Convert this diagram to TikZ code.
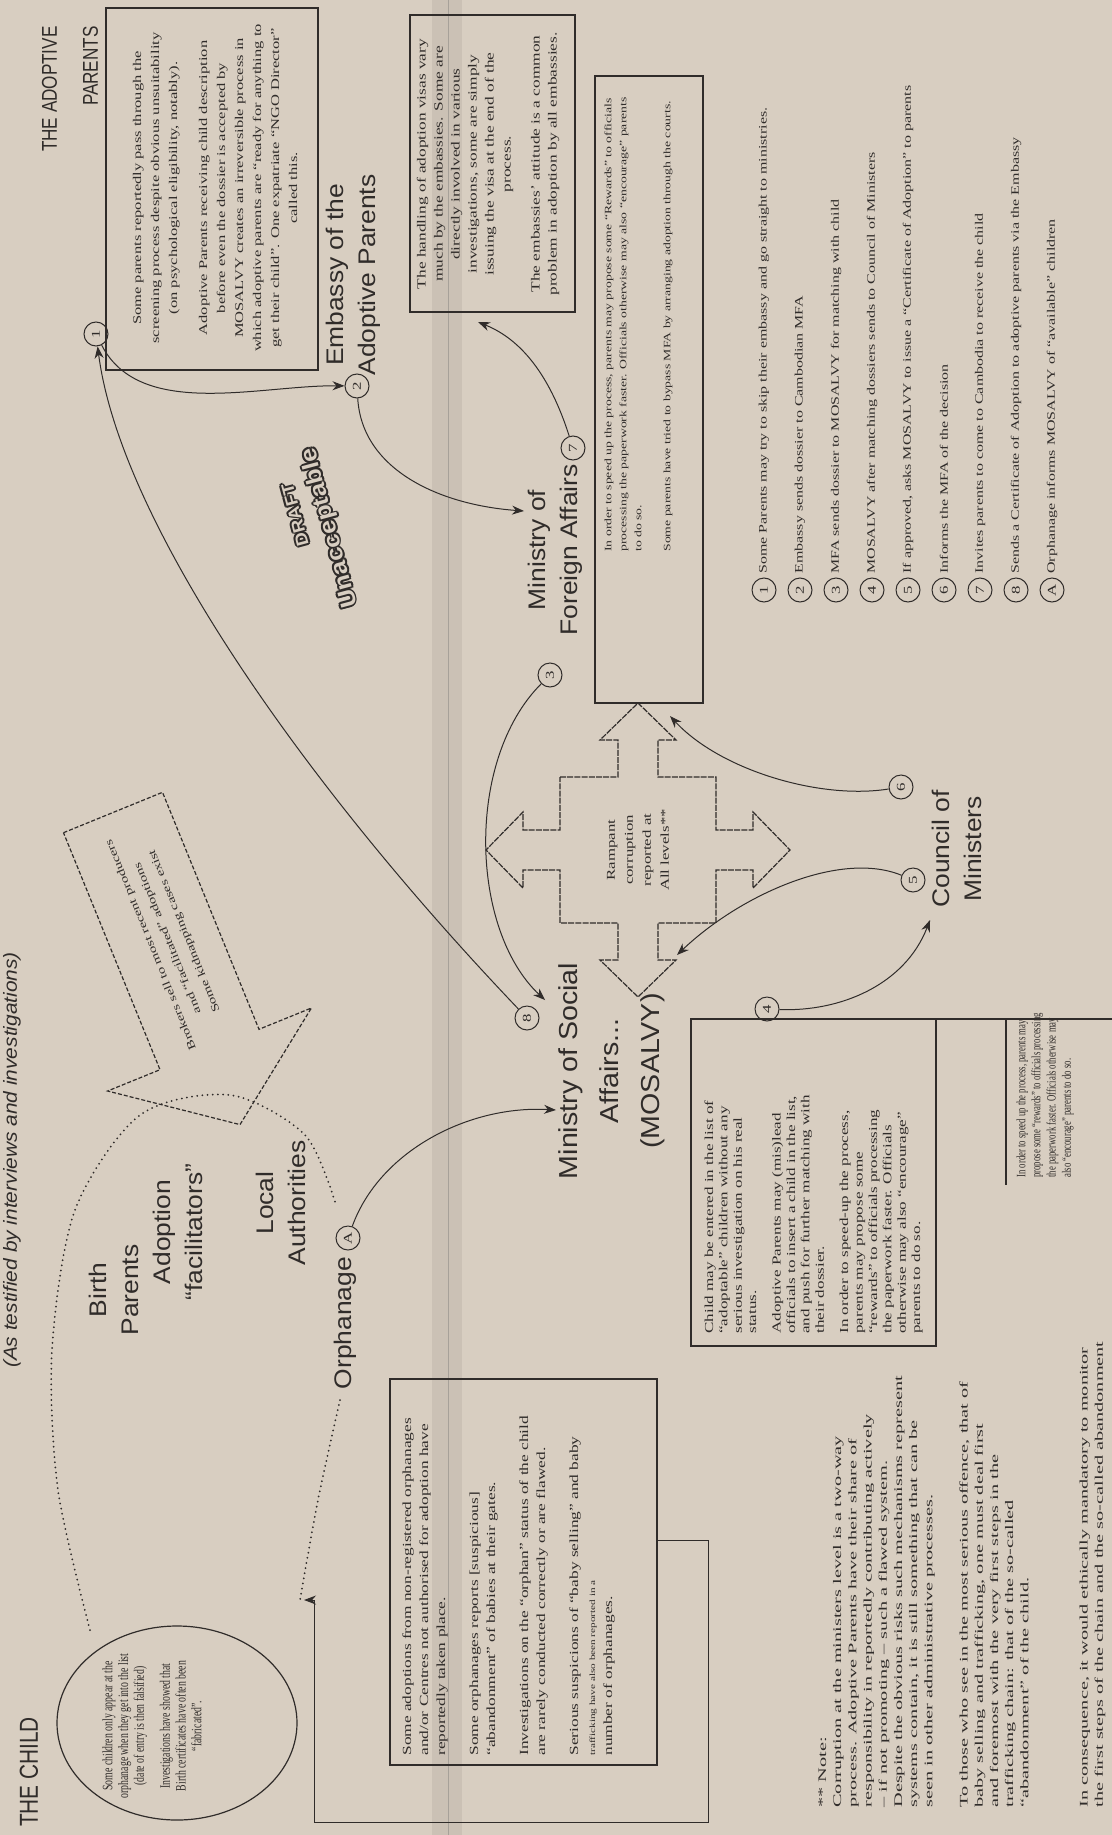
\documentclass[tikz,border=0pt]{standalone}
\usepackage{fontspec}
\setmainfont{Liberation Serif}[FakeStretch=1.4]
\setsansfont{Liberation Sans}[FakeStretch=1.1]
\newfontfamily\condserif{Liberation Serif}[FakeStretch=0.8]
\newfontfamily\ncondserif{Liberation Serif}[FakeStretch=0.68]
\newfontfamily\widserif{Liberation Serif}[FakeStretch=1.75]
\newfontfamily\hdsans{Liberation Sans}[FakeStretch=0.8]
\usetikzlibrary{arrows.meta,shapes.geometric}
\definecolor{paper}{RGB}{216,206,193}
\definecolor{ink}{RGB}{48,44,42}
\tikzset{
  rt/.style={rotate=90, inner sep=0pt, text=ink},
  lbl/.style={rt, font=\sffamily\fontsize{12}{16}\selectfont, align=center},
  txt/.style={rt, font=\rmfamily\fontsize{6}{7}\selectfont},
  num/.style={circle, draw=ink, line width=0.5pt, minimum size=12pt, inner sep=0pt, rotate=90, text=ink, font=\rmfamily\fontsize{6}{6}\selectfont},
  boxline/.style={draw=ink, line width=0.75pt},
  conn/.style={draw=ink, line width=0.5pt},
  arr/.style={conn, -{Stealth[length=6pt,width=4.5pt]}},
  dotc/.style={draw=ink, line width=1pt, line cap=round, dash pattern=on 0pt off 2.6pt},
  stampf/.style={inner sep=0pt, rotate=105, font=\sffamily\bfseries\fontsize{11.5}{11.5}\selectfont},
  stampg/.style={inner sep=0pt, rotate=105, font=\sffamily\bfseries\fontsize{8.5}{8.5}\selectfont}
}
\begin{document}
\begin{tikzpicture}[x=0.5pt,y=-0.5pt]
\fill[paper] (0,0) rectangle (1112,1835);
\useasboundingbox (0,0) rectangle (1112,1835);
\fill[black,opacity=0.06] (432,0) rectangle (462,1835);
\draw[black!60, opacity=0.35, line width=0.4pt] (448,0) -- (448,1835);

% ---------- headings
\node[rt, font=\sffamily\itshape\fontsize{9.5}{11}\selectfont] (title) at (12,1160) {(As testified by interviews and investigations)};
\node[rt, font=\hdsans\fontsize{13}{14}\selectfont] (hchild) at (29,1772) {THE CHILD};
\node[rt, font=\hdsans\fontsize{10.7}{20.5}\selectfont, align=right, anchor=east] (hparents) at (70,26) {THE ADOPTIVE\\PARENTS};

% ---------- adoptive parents box
\draw[boxline] (106,8) rectangle (318,370);
\node[txt, font=\rmfamily\fontsize{5.9}{9}\selectfont, align=center] (aptxt) at (215,188) {Some parents reportedly pass through the\\
screening process despite obvious unsuitability\\
(on psychological eligibility, notably).\\[6pt]
Adoptive Parents receiving child description\\
before even the dossier is accepted by\\
MOSALVY creates an irreversible process in\\
which adoptive parents are “ready for anything to\\
get their child”. One expatriate “NGO Director”\\
called this.};
\node[num] (c1) at (96,334) {1};

% ---------- embassy
\node[lbl] (emb) at (353,275) {Embassy of the\\Adoptive Parents};
\node[num] (c2) at (357,386) {2};
\draw[boxline] (410,15) rectangle (575,312);
\node[txt, font=\rmfamily\fontsize{6.2}{8.5}\selectfont, align=center] (embtxt) at (488,164) {The handling of adoption visas vary\\
much by the embassies. Some are\\
directly involved in various\\
investigations, some are simply\\
issuing the visa at the end of the\\
process.\\[6pt]
The embassies’ attitude is a common\\
problem in adoption by all embassies.};

% ---------- MFA
\node[lbl] (mfa) at (555,550) {Ministry of\\Foreign Affairs};
\node[num] (c7) at (573,448) {7};
\node[num] (c3) at (550,675) {3};
\draw[boxline] (595,76) rectangle (703,703);
\node[txt, font=\rmfamily\fontsize{4.9}{7.5}\selectfont, anchor=north west, align=left] (mfatxt) at (604,552) {In order to speed up the process, parents may propose some “Rewards” to officials\\
processing the paperwork faster. Officials otherwise may also “encourage” parents\\
to do so.\\[7pt]
Some parents have tried to bypass MFA by arranging adoption through the courts.};

% ---------- stamp
\foreach \dx/\dy [count=\i] in {1/0,-1/0,0/1,0/-1,0.7/0.7,-0.7/0.7,0.7/-0.7,-0.7/-0.7}{
  \node[stampf, text=ink, xshift=\dx pt, yshift=\dy pt] (sa\i) at (330,528) {Unacceptable};
  \node[stampg, text=ink, xshift=\dx pt, yshift=\dy pt] (sb\i) at (295,515) {DRAFT};
}
\node[stampf, text=paper] (stampA) at (330,528) {Unacceptable};
\node[stampg, text=paper] (stampB) at (295,515) {DRAFT};

% ---------- facilitators block arrow
\draw[ink, line width=0.6pt, dash pattern=on 2pt off 1pt]
  (63.5,832.7) -- (162.5,792.3) -- (259,1029.3) -- (311.4,1008) -- (240,1124.6) -- (107.6,1091) -- (160,1069.7) -- cycle;
\node[rt, rotate=22.15, font=\rmfamily\fontsize{5.4}{9}\selectfont, align=center] (fac) at (168,938) {Brokers sell to most recent producers\\and “facilitated” adoptions\\Some kidnapping cases exist};

% ---------- child side labels
\node[lbl] (birth) at (114,1290) {Birth\\Parents};
\node[lbl] (facil) at (178,1232) {Adoption\\“facilitators”};
\node[lbl] (local) at (281,1203) {Local\\Authorities};
\node[lbl] (orph) at (345,1323) {Orphanage};
\node[num] (cA) at (348,1238) {A};
\draw[dotc] plot[smooth] coordinates {(90,1630) (58,1490) (52,1350) (75,1210) (140,1115) (230,1095) (305,1135) (336,1205)};
\draw[dotc] plot[smooth] coordinates {(340,1400) (318,1500) (300,1600)};

% ---------- child ellipse
\node[draw=ink, line width=0.6pt, ellipse, rotate=90, minimum width=97pt, minimum height=120pt, inner sep=0pt] (child) at (177,1723) {};
\node[txt, font=\ncondserif\fontsize{7.2}{7.9}\selectfont, align=center] (childtxt) at (152,1726) {Some children only appear at the\\orphanage when they get into the list\\(date of entry is then falsified)\\[5pt]Investigations have showed that\\Birth certificates have often been\\“fabricated”.};

% ---------- orphanage box
\draw[boxline] (390,1379) rectangle (657,1765);
\node[txt, font=\rmfamily\fontsize{6.2}{8.5}\selectfont, anchor=north west, align=left] (orphtxt) at (402,1756) {Some adoptions from non-registered orphanages\\
and/or Centres not authorised for adoption have\\
reportedly taken place.\\[8pt]
Some orphanages reports [suspicious]\\
“abandonment” of babies at their gates.\\[8pt]
Investigations on the “orphan” status of the child\\
are rarely conducted correctly or are flawed.\\[8pt]
Serious suspicions of “baby selling” and baby\\
{\fontsize{4}{8.5}\selectfont trafficking have also been reported in a}\\
number of orphanages.};
\coordinate (ob1) at (657,1540);
\coordinate (ob2) at (304,1600);
\draw[arr] (ob1) -- (708,1540) -- (708,1822) -- (314,1822) -- (314,1600) -- (ob2);

% ---------- MOSALVY
\node[lbl, font=\sffamily\fontsize{13}{20.5}\selectfont] (mos) at (612,1071) {Ministry of Social\\Affairs...\\(MOSALVY)};
\node[num] (c8) at (527,1018) {8};
\node[num] (c4) at (767,1009) {4};
\draw[boxline] (691,1019) rectangle (936,1346);
\draw[boxline] (936,1019) -- (1112,1019);
\node[txt, font=\rmfamily\fontsize{6.1}{7.2}\selectfont, anchor=north west, align=left] (mostxt) at (704,1334) {Child may be entered in the list of\\
“adoptable” children without any\\
serious investigation on his real\\
status.\\[5pt]
Adoptive Parents may (mis)lead\\
officials to insert a child in the list,\\
and push for further matching with\\
their dossier.\\[5pt]
In order to speed-up the process,\\
parents may propose some\\
“rewards” to officials processing\\
the paperwork faster. Officials\\
otherwise may also “encourage”\\
parents to do so.};

% ---------- cross
\draw[ink, line width=0.6pt, dash pattern=on 3pt off 0.6pt]
 (560,777) -- (618,777) -- (618,740) -- (600,740) -- (638,703) -- (676,740) -- (658,740) -- (658,777) -- (716,777) -- (716,830) -- (753,830) -- (753,812) -- (790,850) -- (753,888) -- (753,870) -- (716,870) -- (716,923) -- (658,923) -- (658,960) -- (676,960) -- (638,997) -- (600,960) -- (618,960) -- (618,923) -- (560,923) -- (560,870) -- (523,870) -- (523,888) -- (486,850) -- (523,812) -- (523,830) -- (560,830) -- cycle;
\node[txt, font=\rmfamily\fontsize{6}{9}\selectfont, align=center] (cross) at (638,850) {Rampant\\corruption\\reported at\\All levels**};

% ---------- council
\node[lbl] (council) at (957,849) {Council of\\Ministers};
\node[num] (c5) at (913,880) {5};
\node[num] (c6) at (901,787) {6};
\draw[boxline] (1006,1019) -- (1006,1185);
\node[txt, font=\ncondserif\fontsize{6.4}{7.6}\selectfont, anchor=north west, align=left] (counciltxt) at (1016,1178) {In order to speed up the process, parents may\\
propose some “rewards” to officials processing\\
the paperwork faster. Officials otherwise may\\
also “encourage” parents to do so.};

% ---------- legend
\foreach \k/\lab/\t in {0/1/{Some Parents may try to skip their embassy and go straight to ministries.},
 1/2/{Embassy sends dossier to Cambodian MFA},
 2/3/{MFA sends dossier to MOSALVY for matching with child},
 3/4/{MOSALVY after matching dossiers sends to Council of Ministers},
 4/5/{If approved, asks MOSALVY to issue a “Certificate of Adoption” to parents},
 5/6/{Informs the MFA of the decision},
 6/7/{Invites parents to come to Cambodia to receive the child},
 7/8/{Sends a Certificate of Adoption to adoptive parents via the Embassy},
 8/A/{Orphanage informs MOSALVY of “available” children}}{
  \node[num] (leg\lab) at ({764+36*\k},590) {\lab};
  \node[txt, font=\rmfamily\fontsize{5.7}{6}\selectfont, anchor=west] (legt\lab) at ({764+36*\k},574) {\t};
}

% ---------- notes
\node[txt, anchor=north west, align=left, font=\widserif\fontsize{5.8}{7.6}\selectfont] (notes) at (818,1808) {** Note:\\
Corruption at the ministers level is a two-way\\
process. Adoptive Parents have their share of\\
responsibility in reportedly contributing actively\\
– if not promoting – such a flawed system.\\
Despite the obvious risks such mechanisms represent\\
systems contain, it is still something that can be\\
seen in other administrative processes.\\[10pt]
To those who see in the most serious offence, that of\\
baby selling and trafficking, one must deal first\\
and foremost with the very first steps in the\\
trafficking chain: that of the so-called\\
“abandonment” of the child.\\[22pt]
In consequence, it would ethically mandatory to monitor\\
the first steps of the chain and the so-called abandonment};

% ---------- connectors
\draw[arr] (c8) .. controls (300,780) and (120,520) .. (c1);
\draw[arr] (c1) .. controls (140,420) and (260,385) .. (c2);
\coordinate (mfain) at (524,511);
\draw[arr] (c2) .. controls (362,470) and (440,505) .. (mfain);
\coordinate (embin) at (478,322);
\draw[arr] (c7) .. controls (545,360) and (510,335) .. (embin);
\coordinate (mosin) at (545,1000);
\draw[arr] (c3) .. controls (465,760) and (470,930) .. (mosin);
\coordinate (councilin) at (930,920);
\draw[arr] (c4) .. controls (840,1012) and (905,985) .. (councilin);
\coordinate (mfabot) at (670,716);
\draw[arr] (c6) .. controls (820,800) and (720,770) .. (mfabot);
\coordinate (mosright) at (677,955);
\draw[arr] (c5) .. controls (840,850) and (740,895) .. (mosright);
\coordinate (mosleft) at (556,1110);
\draw[arr] (cA) .. controls (380,1150) and (470,1105) .. (mosleft);
\end{tikzpicture}
\end{document}
